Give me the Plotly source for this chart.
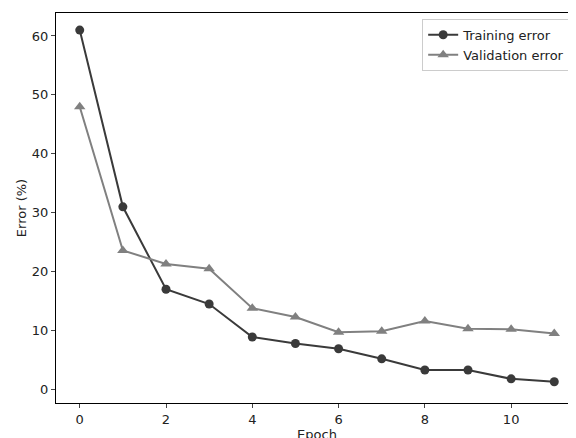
import plotly.graph_objects as go

epochs = list(range(12))
training_error = [61.0, 31.0, 17.0, 14.5, 8.9, 7.8, 6.9, 5.2, 3.3, 3.3, 1.8, 1.3]
validation_error = [48.0, 23.6, 21.3, 20.5, 13.8, 12.3, 9.7, 9.9, 11.6, 10.3, 10.2, 9.5]

fig = go.Figure()
fig.add_trace(go.Scatter(x=epochs, y=training_error, name='Training error',
                         mode='lines+markers', line=dict(color='#3a3a3a', width=2),
                         marker=dict(symbol='circle', size=9, color='#3a3a3a')))
fig.add_trace(go.Scatter(x=epochs, y=validation_error, name='Validation error',
                         mode='lines+markers', line=dict(color='#808080', width=2),
                         marker=dict(symbol='triangle-up', size=10, color='#808080')))

axis = dict(showline=True, mirror=True, linecolor='black', linewidth=1, ticks='outside',
            ticklen=4, showgrid=False, zeroline=False, tickfont=dict(size=13, color='#222'))
fig.update_layout(
    width=576, height=438, plot_bgcolor='white', paper_bgcolor='white',
    font=dict(family='DejaVu Sans', size=13, color='#222'),
    margin=dict(l=48, r=6, t=5, b=43),
    xaxis=dict(axis, title=dict(text='Epoch', standoff=2, font=dict(size=13)),
               range=[-0.55, 11.55], dtick=2),
    yaxis=dict(axis, title=dict(text='Error (%)', standoff=2, font=dict(size=13)),
               range=[-2.3, 63.9], dtick=10),
    legend=dict(x=0.985, y=0.985, xanchor='right', yanchor='top', bordercolor='#ccc',
                borderwidth=1, bgcolor='white', font=dict(size=13)),
)
fig.write_html("out.html")
